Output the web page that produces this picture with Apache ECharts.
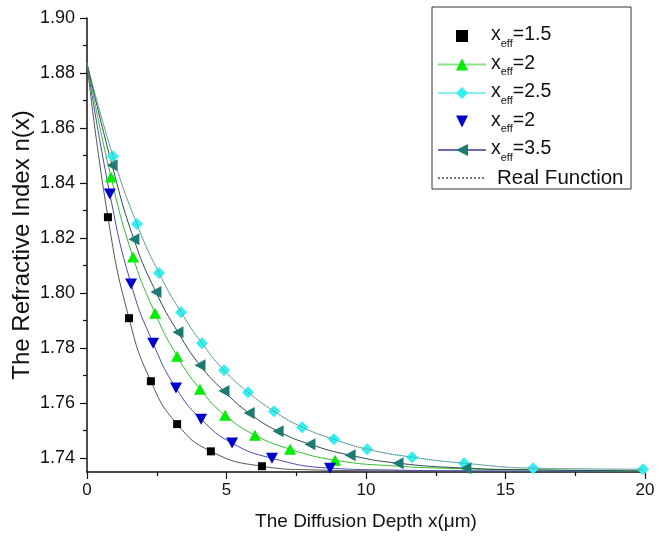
<!DOCTYPE html>
<html>
<head>
<meta charset="utf-8">
<title>Refractive index profile</title>
<script src="https://cdn.jsdelivr.net/npm/echarts@6/dist/echarts.min.js"></script>
<style>
  html, body { margin: 0; padding: 0; background: #fff; }
  #chart { width: 665px; height: 541px; }
</style>
</head>
<body>
<div id="chart"></div>
<script>
// values: depth x (um), index n(x)
var surface = [0, 1.8835];

var pts15 = [[0.75, 1.8276], [1.505, 1.7909], [2.29, 1.7680], [3.23, 1.7524], [4.44, 1.7425], [6.27, 1.7371]];
var tail15 = [[8, 1.7358], [11, 1.7354], [20, 1.7352]];

var pts2b = [[0.82, 1.8360], [1.58, 1.8033], [2.37, 1.7818], [3.19, 1.7655], [4.09, 1.7542], [5.20, 1.7455], [6.63, 1.7400], [8.71, 1.7364]];
var tail2b = [[11, 1.7357], [14, 1.7354], [20, 1.7352]];

var pts2g = [[0.86, 1.8422], [1.65, 1.8131], [2.44, 1.7927], [3.23, 1.7771], [4.05, 1.7651], [4.95, 1.7556], [6.02, 1.7484], [7.28, 1.7433], [8.89, 1.7393]];
var tail2g = [[11, 1.7372], [13.5, 1.7362], [16, 1.7357], [20, 1.7353]];

var pts25 = [[0.93, 1.8498], [1.79, 1.8251], [2.58, 1.8073], [3.37, 1.7931], [4.12, 1.7818], [4.91, 1.7720], [5.77, 1.7640], [6.70, 1.7571], [7.71, 1.7513], [8.85, 1.7469], [10.04, 1.7433], [11.65, 1.7404], [13.51, 1.7382], [15.99, 1.7364], [19.93, 1.7360]];

var pts35 = [[0.90, 1.8465], [1.68, 1.8196], [2.47, 1.8004], [3.26, 1.7858], [4.05, 1.7738], [4.91, 1.7644], [5.81, 1.7564], [6.85, 1.7498], [7.99, 1.7451], [9.43, 1.7411], [11.15, 1.7382], [13.58, 1.7364]];
var tail35 = [[16, 1.7358], [20, 1.7354]];

var yTicks = [1.74, 1.76, 1.78, 1.80, 1.82, 1.84, 1.86, 1.88, 1.90];
var yMinor = [1.75, 1.77, 1.79, 1.81, 1.83, 1.85, 1.87, 1.89];

var legendText = {
  s15: '{a|x}{s|eff}{a|=1.5}',
  g2: '{a|x}{s|eff}{a|=2}',
  c25: '{a|x}{s|eff}{a|=2.5}',
  b2: '{a|x}{s|eff}{a|=2}',
  t35: '{a|x}{s|eff}{a|=3.5}',
  real: '{r|Real Function}'
};

var font = 'Liberation Sans, Arial, sans-serif';

// line through surface value, the markers and the tail; markers only where measured
function curve(pts, tail) {
  var d = [{ value: surface, symbol: 'none' }];
  pts.forEach(function (p) { d.push({ value: p }); });
  (tail || []).forEach(function (p) { d.push({ value: p, symbol: 'none' }); });
  return d;
}
function plain(pts, tail) {
  return [surface].concat(pts, tail || []);
}

var chart = echarts.init(document.getElementById('chart'));

var option = {
  animation: false,
  grid: { left: 87, right: 20, top: 18, bottom: 69, outerBoundsMode: 'none' },
  xAxis: {
    type: 'value',
    min: 0,
    max: 20,
    interval: 5,
    name: 'The Diffusion Depth x(\u03bcm)',
    nameLocation: 'middle',
    nameGap: 40,
    nameMoveOverlap: false,
    nameTextStyle: { color: '#111', fontSize: 19, fontFamily: font },
    axisLine: { lineStyle: { color: '#111', width: 1.5 } },
    axisTick: { length: 7, lineStyle: { color: '#111', width: 1.2 } },
    minorTick: { show: true, splitNumber: 2, length: 4, lineStyle: { color: '#111', width: 1.2 } },
    axisLabel: { color: '#111', fontSize: 17, fontFamily: font, margin: 10 },
    splitLine: { show: false }
  },
  yAxis: [{
    type: 'value',
    min: 1.735,
    max: 1.90,
    name: 'The Refractive Index n(x)',
    nameLocation: 'middle',
    nameGap: 53,
    nameMoveOverlap: false,
    nameTextStyle: { color: '#111', fontSize: 24, fontFamily: font },
    axisLine: { show: true, lineStyle: { color: '#111', width: 1.5 } },
    axisTick: { show: true, length: 7, customValues: yTicks, lineStyle: { color: '#111', width: 1.2 } },
    axisLabel: {
      color: '#111', fontSize: 18, fontFamily: font, margin: 12,
      customValues: yTicks,
      formatter: function (v) { return v.toFixed(2); }
    },
    splitLine: { show: false }
  }, {
    // minor ticks only
    type: 'value',
    position: 'left',
    min: 1.735,
    max: 1.90,
    axisLine: { show: false },
    axisTick: { show: true, length: 4, customValues: yMinor, lineStyle: { color: '#111', width: 1.2 } },
    axisLabel: { show: false },
    splitLine: { show: false }
  }],
  legend: {
    orient: 'vertical',
    left: 437,
    top: 25,
    padding: 0,
    itemGap: 4.5,
    itemWidth: 48,
    itemHeight: 15,
    selectedMode: false,
    data: [
      { name: 's15' },
      { name: 'g2', lineStyle: { color: '#88e088' } },
      { name: 'c25', lineStyle: { color: '#88eeee' } },
      { name: 'b2' },
      { name: 't35', lineStyle: { color: '#6a6ab0' } },
      { name: 'real', itemStyle: { opacity: 0 } }
    ],
    formatter: function (name) { return legendText[name]; },
    textStyle: {
      color: '#111',
      rich: {
        a: { fontSize: 19.5, fontFamily: font, color: '#111', lineHeight: 22, verticalAlign: 'top' },
        s: { fontSize: 11, fontFamily: font, color: '#111', lineHeight: 22, padding: [13, 0, 0, 0], verticalAlign: 'top' },
        r: { fontSize: 20.5, fontFamily: font, color: '#111', lineHeight: 18, padding: [0, 0, 0, 6] }
      }
    }
  },
  graphic: [{
    type: 'rect',
    shape: { x: 432, y: 7, width: 199, height: 182 },
    style: { fill: 'none', stroke: '#333', lineWidth: 1 },
    z: 100
  }],
  series: [
    {
      name: 'fit15', type: 'line', data: plain(pts15, tail15),
      smooth: 0.5, symbol: 'none',
      lineStyle: { color: '#555', width: 1 }, z: 2
    },
    {
      name: 's15', type: 'line', data: pts15,
      symbol: 'rect', symbolSize: 8, showAllSymbol: true,
      lineStyle: { opacity: 0 }, itemStyle: { color: '#000' }, z: 5
    },
    {
      name: 'fitb2', type: 'line', data: plain(pts2b, tail2b),
      smooth: 0.5, symbol: 'none',
      lineStyle: { color: '#4a4ab0', width: 1 }, z: 2
    },
    {
      name: 'b2', type: 'line', data: pts2b,
      symbol: 'triangle', symbolRotate: 180, symbolSize: [12, 11], showAllSymbol: true,
      lineStyle: { opacity: 0 }, itemStyle: { color: '#0000cc' }, z: 5
    },
    {
      name: 'g2', type: 'line', data: curve(pts2g, tail2g),
      smooth: 0.5, symbol: 'triangle', symbolSize: [12, 11], showAllSymbol: true,
      lineStyle: { color: '#33bb33', width: 1 }, itemStyle: { color: '#00ee00' }, z: 3
    },
    {
      name: 'c25', type: 'line', data: curve(pts25),
      smooth: 0.5, symbol: 'diamond', symbolSize: [12, 12], showAllSymbol: true,
      lineStyle: { color: '#70d0d0', width: 1 }, itemStyle: { color: '#33f0f0' }, z: 3
    },
    {
      name: 't35', type: 'line', data: curve(pts35, tail35),
      smooth: 0.5, symbol: 'triangle', symbolRotate: 90, symbolSize: [12, 11], showAllSymbol: true,
      lineStyle: { color: '#2d4a48', width: 1 }, itemStyle: { color: '#1f7a72' }, z: 3
    },
    {
      name: 'real', type: 'line', data: plain(pts25),
      smooth: 0.5, symbol: 'none',
      lineStyle: { color: '#777', width: 1, type: 'dotted' }, z: 4
    }
  ]
};

chart.setOption(option);
</script>
</body>
</html>
